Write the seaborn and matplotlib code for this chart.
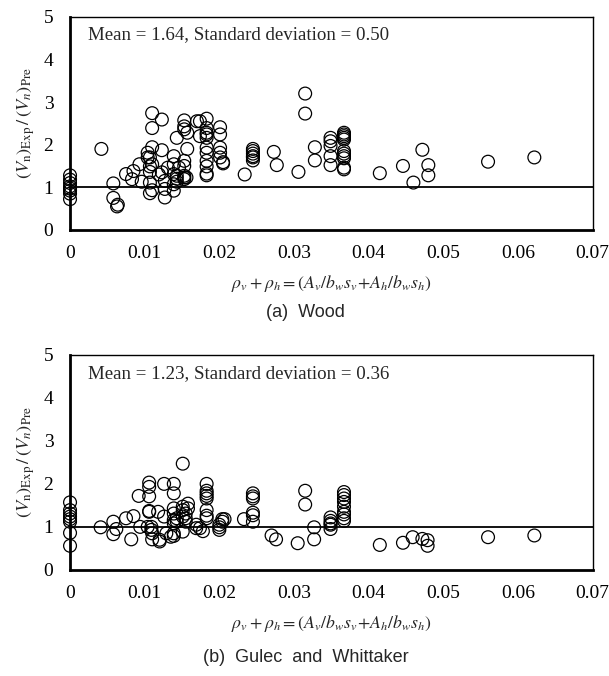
import numpy as np
import matplotlib
matplotlib.use("Agg")
import matplotlib.pyplot as plt
import seaborn as sns

# Panel (a) Wood: reinforcement ratio vs. strength ratio
wood_x = [0, 0, 0, 0, 0, 0, 0, 0,
          0.0042, 0.0058, 0.0058, 0.0063, 0.0064, 0.0075, 0.0083, 0.0085, 0.0093, 0.0096,
          0.0104, 0.0104, 0.0107, 0.0107, 0.0107, 0.0107, 0.0107,
          0.011, 0.011, 0.011, 0.011, 0.011, 0.0119, 0.0123, 0.0123, 0.0123,
          0.0127, 0.0127, 0.0127, 0.0131,
          0.0139, 0.0139, 0.0139, 0.0139, 0.0139, 0.0143, 0.0143, 0.0143, 0.0143, 0.0146,
          0.0153, 0.0153, 0.0153, 0.0153, 0.0153, 0.0153, 0.0153, 0.0153, 0.0156,
          0.0157, 0.0157, 0.017, 0.0174, 0.0174,
          0.0183, 0.0183, 0.0183, 0.0183, 0.0183, 0.0183, 0.0183, 0.0183, 0.0183, 0.0183, 0.0183,
          0.0201, 0.0201, 0.0201, 0.0201, 0.0201, 0.0205, 0.0205,
          0.0234, 0.0245, 0.0245, 0.0245, 0.0245, 0.0245, 0.0245,
          0.0273, 0.0277, 0.0306, 0.0315, 0.0315, 0.0328, 0.0328,
          0.0349, 0.0349, 0.0349, 0.0349, 0.0349,
          0.0367, 0.0367, 0.0367, 0.0367, 0.0367, 0.0367, 0.0367, 0.0367, 0.0367, 0.0367, 0.0367,
          0.0415, 0.0446, 0.046, 0.0472, 0.048, 0.048, 0.056, 0.0622]
wood_y = [1.28, 1.18, 1.1, 1.02, 0.97, 0.92, 0.85, 0.72,
          1.90, 1.09, 0.75, 0.55, 0.59, 1.31, 1.19, 1.38, 1.54, 1.13,
          1.81, 1.70, 1.70, 1.49, 1.36, 1.11, 0.86,
          2.74, 2.39, 1.94, 1.54, 0.93, 1.30, 2.59, 1.87, 1.35,
          0.76, 0.96, 1.15, 1.46,
          1.73, 1.54, 1.31, 0.92, 1.07, 2.16, 1.27, 1.20, 1.13, 1.46,
          2.57, 2.43, 2.36, 1.62, 1.50, 1.23, 1.19, 1.27, 1.23,
          2.28, 1.90, 2.55, 2.20, 2.55,
          2.61, 2.39, 2.28, 2.24, 2.16, 1.93, 1.81, 1.62, 1.49, 1.32, 1.28,
          2.41, 2.24, 1.93, 1.81, 1.70, 1.59, 1.56,
          1.30, 1.90, 1.85, 1.79, 1.73, 1.70, 1.63,
          1.83, 1.52, 1.36, 3.20, 2.73, 1.94, 1.63,
          2.16, 2.08, 1.97, 1.73, 1.52,
          2.28, 2.24, 2.20, 2.16, 2.12, 1.85, 1.79, 1.73, 1.68, 1.46, 1.42,
          1.33, 1.50, 1.11, 1.88, 1.52, 1.28, 1.60, 1.70]

# Panel (b) Gulec and Whittaker
gw_x = [0, 0, 0, 0, 0, 0, 0, 0,
        0.0041, 0.0058, 0.0058, 0.0062, 0.0075, 0.0082, 0.0085, 0.0092, 0.0094,
        0.0104, 0.0106, 0.0106, 0.0106, 0.0106, 0.0106, 0.0109, 0.0109, 0.011, 0.011,
        0.0118, 0.012, 0.012, 0.0126, 0.0126, 0.0129, 0.0135,
        0.0139, 0.0139, 0.0139, 0.0139, 0.0139, 0.0139, 0.0139, 0.0139, 0.0143, 0.0143,
        0.0151, 0.0151, 0.0151, 0.0151, 0.0151, 0.0155, 0.0155, 0.0155, 0.0158, 0.0158,
        0.0169, 0.0169, 0.0174, 0.0178,
        0.0183, 0.0183, 0.0183, 0.0183, 0.0183, 0.0183, 0.0183, 0.0183,
        0.02, 0.02, 0.02, 0.0204, 0.0204, 0.0207,
        0.0233, 0.0245, 0.0245, 0.0245, 0.0245, 0.0245, 0.0245,
        0.027, 0.0276, 0.0305, 0.0315, 0.0315, 0.0327, 0.0327,
        0.0349, 0.0349, 0.0349, 0.0349, 0.0349,
        0.0367, 0.0367, 0.0367, 0.0367, 0.0367, 0.0367, 0.0367, 0.0367, 0.0367,
        0.0415, 0.0446, 0.0459, 0.0472, 0.0479, 0.0479, 0.056, 0.0622]
gw_y = [1.57, 1.39, 1.31, 1.24, 1.18, 1.12, 0.86, 0.56,
        0.99, 1.12, 0.83, 0.95, 1.20, 0.71, 1.25, 1.72, 1.00,
        1.00, 2.03, 1.93, 1.71, 1.37, 1.35, 1.00, 0.93, 0.71, 0.85,
        1.35, 0.70, 0.66, 2.00, 1.24, 0.85, 0.77,
        2.00, 1.78, 1.43, 1.31, 1.16, 1.08, 0.85, 0.79, 1.20, 1.12,
        2.47, 1.47, 1.39, 1.24, 0.89, 1.31, 1.20, 1.12, 1.54, 1.43,
        1.05, 0.97, 0.97, 0.90,
        2.00, 1.84, 1.78, 1.72, 1.66, 1.39, 1.26, 1.20,
        1.05, 0.99, 0.93, 1.18, 1.12, 1.18,
        1.18, 1.78, 1.71, 1.66, 1.33, 1.27, 1.12,
        0.80, 0.71, 0.62, 1.84, 1.52, 0.99, 0.71,
        1.22, 1.14, 1.08, 1.05, 0.95,
        1.81, 1.74, 1.66, 1.58, 1.47, 1.35, 1.29, 1.20, 1.14,
        0.58, 0.63, 0.76, 0.72, 0.69, 0.56, 0.76, 0.80]

panels = [
    (wood_x, wood_y, "Mean = 1.64, Standard deviation = 0.50", "(a)  Wood"),
    (gw_x, gw_y, "Mean = 1.23, Standard deviation = 0.36", "(b)  Gulec  and  Whittaker"),
]

sns.set_style("white")
plt.rcParams['font.family'] = ['Liberation Serif', 'DejaVu Serif']
plt.rcParams['mathtext.fontset'] = 'stix'

fig = plt.figure(figsize=(6.09, 6.76), dpi=100)
axes_pos = [[0.115, 0.660, 0.858, 0.315], [0.115, 0.157, 0.858, 0.318]]
caption_y = [0.537, 0.028]

for i, (xs, ys, stat, cap) in enumerate(panels):
    ax = fig.add_axes(axes_pos[i])
    sns.scatterplot(x=xs, y=ys, ax=ax, s=85, marker='o', facecolors='none',
                    edgecolors='black', linewidth=0.9, zorder=3, clip_on=False)
    ax.axhline(1, color='black', lw=1.3, zorder=2)
    ax.set_xlim(0, 0.07)
    ax.set_ylim(0, 5)
    ax.set_xticks(np.arange(0, 0.071, 0.01))
    ax.set_xticklabels(['0', '0.01', '0.02', '0.03', '0.04', '0.05', '0.06', '0.07'])
    ax.set_yticks(range(6))
    ax.tick_params(axis='x', direction='in', length=4, width=1, labelsize=14, pad=11, colors='black')
    ax.tick_params(axis='y', direction='out', length=3, width=1, labelsize=14, pad=9, colors='black')
    for side in ['left', 'bottom']:
        ax.spines[side].set_linewidth(2)
        ax.spines[side].set_color('black')
    for side in ['top', 'right']:
        ax.spines[side].set_linewidth(1)
        ax.spines[side].set_color('black')
    ax.set_xlabel(r"$\rho_v + \rho_h = (A_v/b_w s_v\!+\!A_h/b_w s_h)$", fontsize=12.8, labelpad=8)
    ax.set_ylabel(r"$(V_{\rm n})_{\rm Exp}\,/\,(V_n)_{\rm Pre}$", fontsize=13.2, labelpad=5)
    ax.text(0.034, 0.915, stat, transform=ax.transAxes, fontsize=13.6, va='center', ha='left')
    fig.text(0.502, caption_y[i], cap, ha='center', va='center', fontsize=13,
             family=['Liberation Sans', 'DejaVu Sans'])

fig.savefig("out.png", dpi=100)
